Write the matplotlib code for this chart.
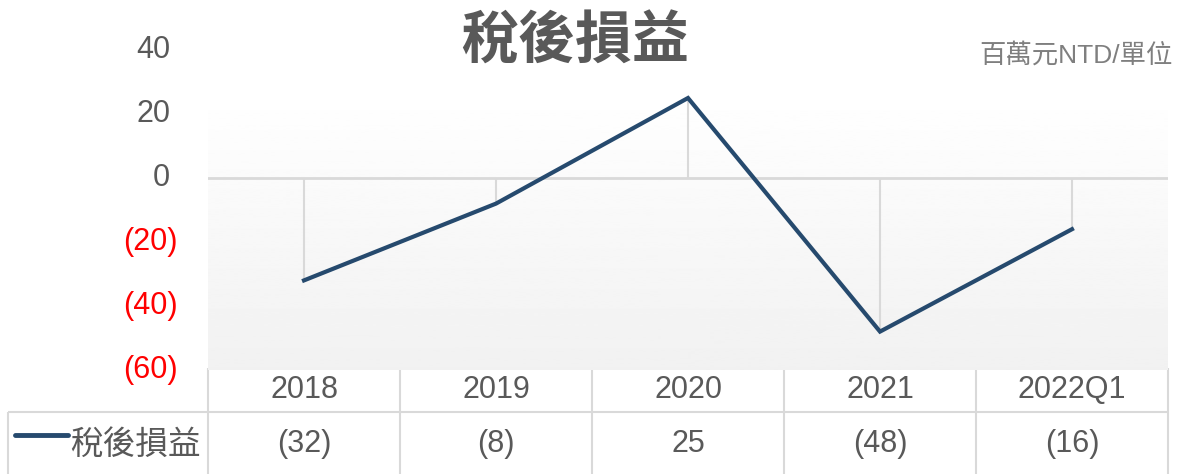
import numpy as np
import matplotlib
matplotlib.use("Agg")
from matplotlib import pyplot as plt
import matplotlib.transforms as mtransforms

plt.rcParams['font.family'] = ['Liberation Sans', 'Noto Sans CJK TC']

# data
categories = ['2018', '2019', '2020', '2021', '2022Q1']
profit = [-32, -8, 25, -48, -16]
series_name = '稅後損益'
y_ticks = [-60, -40, -20, 0, 20, 40]
title = '稅後損益'
unit_label = '百萬元NTD/單位'

line_color = '#264a6e'
text_gray = '#595959'
grid_gray = '#d9d9d9'


def fmt(v):
    return '({:d})'.format(abs(v)) if v < 0 else '{:d}'.format(v)


W, H = 1178, 474
fig = plt.figure(figsize=(W / 100, H / 100), dpi=100)

# layout in pixels
ax_left, ax_right = 208, 1168
ax_top, ax_bottom = 50, 370
ax = fig.add_axes([ax_left / W, 1 - ax_bottom / H, (ax_right - ax_left) / W, (ax_bottom - ax_top) / H])
ax.set_xlim(-0.5, len(categories) - 0.5)
ax.set_ylim(-60, 40)
for s in ax.spines.values():
    s.set_visible(False)
ax.set_xticks([])
ax.set_yticks([])

# gradient plot area background (starts a bit below the top)
grad_top = 40 - (90 - ax_top) / (ax_bottom - ax_top) * 100
grad = np.linspace(0.945, 1.0, 256).reshape(-1, 1)
ax.imshow(grad, cmap='gray', vmin=0, vmax=1, aspect='auto', origin='lower',
          extent=[-0.5, len(categories) - 0.5, -60, grad_top], zorder=0)

x = np.arange(len(categories))
ax.axhline(0, color=grid_gray, lw=2, zorder=1)
ax.vlines(x, 0, profit, color=grid_gray, lw=1.5, zorder=1)
ax.plot(x, profit, color=line_color, lw=3, solid_joinstyle='miter', zorder=3)

# y tick labels (negatives in red with parentheses), placed left of the axis
for t in y_ticks:
    off = -30 if t < 0 else -38
    tr = ax.transData + mtransforms.ScaledTranslation(off / 100, 0, fig.dpi_scale_trans)
    ax.text(-0.5, t, fmt(t), transform=tr, ha='right', va='center', fontsize=22,
            color='red' if t < 0 else text_gray, clip_on=False)

# table in pixel coordinates
tab = fig.add_axes([0, 0, 1, 1], zorder=-1)
tab.set_xlim(0, W)
tab.set_ylim(H, 0)
tab.axis('off')

col_w = (ax_right - ax_left) / len(categories)
row1_top, row2_top = 368, 412
tab.hlines(row1_top, ax_left, ax_right, color=grid_gray, lw=1.5)
tab.hlines(row2_top, 8, ax_right, color=grid_gray, lw=1.5)
for i in range(len(categories) + 1):
    tab.vlines(ax_left + i * col_w, row1_top, H, color=grid_gray, lw=1.5)
tab.vlines(8, row2_top, H, color=grid_gray, lw=1.5)

for i, (c, v) in enumerate(zip(categories, profit)):
    cx = ax_left + (i + 0.5) * col_w
    tab.text(cx, 390, c, ha='center', va='center', fontsize=22, color=text_gray)
    tab.text(cx, 444, fmt(v), ha='center', va='center', fontsize=22, color=text_gray)

tab.plot([15, 68], [435, 435], color=line_color, lw=3.5, solid_capstyle='round')
tab.text(201, 445, series_name, ha='right', va='center', fontsize=23.5, color=text_gray)

# titles
fig.text(575 / W, 1 - 44 / H, title, ha='center', va='center', fontsize=41,
         fontweight='bold', color=text_gray)
fig.text(1173 / W, 1 - 55 / H, unit_label, ha='right', va='center', fontsize=19,
         color='#7f7f7f')

fig.savefig('out.png', dpi=100)
